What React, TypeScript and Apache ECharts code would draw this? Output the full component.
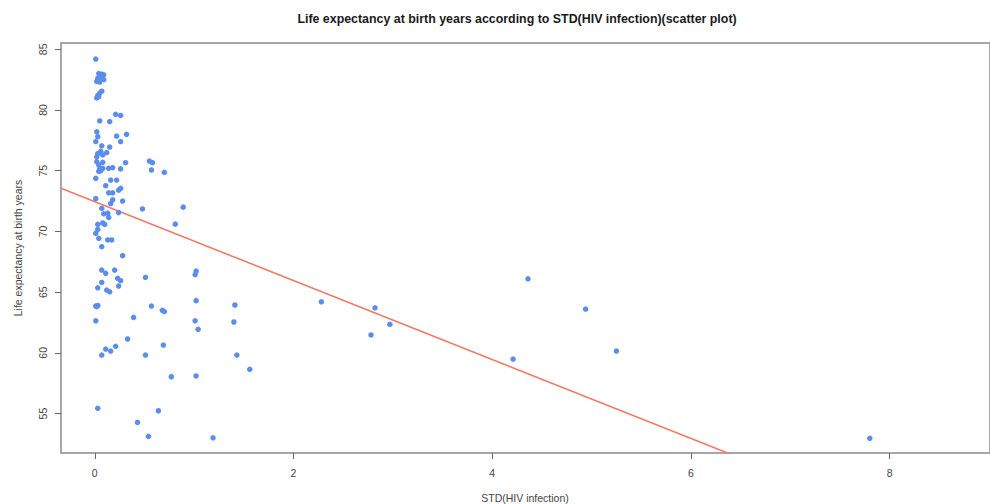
import { useEffect, useRef } from "react";
import * as echarts from "echarts";

const chartTitle = "Life expectancy at birth years according to STD(HIV infection)(scatter plot)";
const xAxisName = "STD(HIV infection)";
const yAxisName = "Life expectancy at birth years";

// STD (HIV infection) values
const stdHiv = [
  0.01, 0.04, 0.07, 0.09, 0.03, 0.06, 0.09, 0.02, 0.05, 0.08,
  0.07, 0.05, 0.03, 0.02, 0.04,
  0.21, 0.26, 0.05, 0.15,
  0.02, 0.03, 0.01, 0.22, 0.32, 0.26,
  0.07, 0.15, 0.12, 0.03, 0.02, 0.06, 0.08,
  0.02, 0.04, 0.08, 0.05,
  0.31, 0.55, 0.58, 0.57, 0.70,
  0.08, 0.14, 0.18, 0.26, 0.04, 0.06,
  0.01, 0.11, 0.16, 0.22, 0.14, 0.18, 0.24, 0.26,
  0.01, 0.18, 0.28, 0.16, 0.07, 0.09, 0.13, 0.14, 0.24,
  0.48, 0.89,
  0.03, 0.08, 0.10, 0.01, 0.03, 0.81,
  0.04, 0.07, 0.13, 0.17, 0.28,
  0.07, 0.11, 0.20, 0.07, 0.03, 0.12, 0.15, 0.23, 0.26, 0.24,
  0.51, 1.02, 1.01,
  0.01, 0.03, 0.02, 0.57, 0.68, 0.70, 1.02,
  0.01, 0.39, 1.01, 1.04, 0.33,
  0.07, 0.11, 0.16, 0.21, 0.51, 0.69,
  0.77, 1.02,
  0.03, 0.64, 0.43, 0.54, 1.19, 7.80,
  1.41, 1.40, 1.43, 1.56,
  2.28, 2.82, 2.97, 2.78,
  4.36, 4.94, 5.25, 4.21,
];

// Life expectancy at birth (years)
const lifeExp = [
  84.2, 83.0, 82.95, 82.9, 82.6, 82.7, 82.5, 82.35, 82.3, 82.55,
  81.55, 81.4, 81.2, 81.0, 81.1,
  79.65, 79.55, 79.1, 79.05,
  78.2, 77.8, 77.4, 77.85, 78.0, 77.4,
  77.05, 76.95, 76.5, 76.4, 76.15, 76.6, 76.3,
  75.74, 75.47, 75.69, 75.15,
  75.66, 75.8, 75.66, 75.06, 74.87,
  75.2, 75.2, 75.25, 75.15, 74.95, 75.0,
  74.37, 73.77, 74.23, 74.23, 73.18, 73.18, 73.4, 73.55,
  72.7, 72.6, 72.5, 72.3, 71.9, 71.45, 71.5, 71.15, 71.55,
  71.85, 72.0,
  70.58, 70.7, 70.58, 69.84, 70.17, 70.6,
  69.43, 68.74, 69.3, 69.3, 68.0,
  66.82, 66.55, 66.82, 65.8, 65.36, 65.17, 65.03, 66.14, 65.94, 65.5,
  66.22, 66.74, 66.45,
  63.85, 63.9, 63.8, 63.85, 63.5, 63.4, 64.3,
  62.64, 62.92, 62.64, 61.94, 61.14,
  59.82, 60.31, 60.15, 60.54, 59.82, 60.64,
  58.03, 58.1,
  55.43, 55.23, 54.27, 53.12, 53.0, 52.96,
  63.94, 62.54, 59.82, 58.64,
  64.2, 63.71, 62.35, 61.47,
  66.1, 63.61, 60.15, 59.49,
];

const xTicks = [0, 2, 4, 6, 8];
const yTicks = [55, 60, 65, 70, 75, 80, 85];
const xRange = [-0.34, 9.01];
const yRange = [51.75, 85.52];

// fitted regression line: lifeExp = intercept + slope * stdHiv
const regIntercept = 72.45;
const regSlope = -3.25;

export default function App() {
  const ref = useRef<HTMLDivElement>(null);

  useEffect(() => {
    if (!ref.current) return;
    const chart = echarts.init(ref.current, null, { renderer: "svg" });
    const points = stdHiv.map((x, i) => [x, lifeExp[i]]);
    const regLine = [xRange[0], xRange[1]].map((x) => [x, regIntercept + regSlope * x]);
    const axisGray = "#8a8a8a";
    const labelColor = "#444444";
    const fontFamily = "'Liberation Sans', Arial, sans-serif";

    chart.setOption({
      animation: false,
      backgroundColor: "#ffffff",
      grid: {
        left: 61,
        top: 43,
        bottom: 51,
        right: -6,
        show: true,
        borderColor: axisGray,
        borderWidth: 1.5,
        backgroundColor: "transparent",
      },
      xAxis: {
        type: "value",
        min: xRange[0],
        max: xRange[1],
        splitLine: { show: false },
        axisLine: { show: false, onZero: false },
        axisTick: {
          show: true,
          inside: false,
          length: 6,
          customValues: xTicks,
          lineStyle: { color: "#666666", width: 1 },
        },
        axisLabel: {
          customValues: xTicks,
          color: labelColor,
          fontSize: 10.5,
          fontFamily,
          margin: 14,
        },
      },
      yAxis: {
        type: "value",
        min: yRange[0],
        max: yRange[1],
        splitLine: { show: false },
        axisLine: { show: false, onZero: false },
        axisTick: {
          show: true,
          inside: false,
          length: 6,
          customValues: yTicks,
          lineStyle: { color: "#666666", width: 1 },
        },
        axisLabel: {
          customValues: yTicks,
          color: labelColor,
          fontSize: 10.5,
          fontFamily,
          rotate: 90,
          margin: 13,
        },
      },
      graphic: [
        {
          type: "text",
          x: 517,
          y: 19,
          style: {
            text: chartTitle,
            fill: "#1a1a1a",
            font: `bold 12.4px ${fontFamily}`,
            textAlign: "center",
            textVerticalAlign: "middle",
          },
        },
        {
          type: "text",
          x: 525,
          y: 498,
          style: {
            text: xAxisName,
            fill: labelColor,
            font: `10.5px ${fontFamily}`,
            textAlign: "center",
            textVerticalAlign: "middle",
          },
        },
        {
          type: "text",
          x: 18,
          y: 248,
          rotation: Math.PI / 2,
          style: {
            text: yAxisName,
            fill: labelColor,
            font: `10.5px ${fontFamily}`,
            textAlign: "center",
            textVerticalAlign: "middle",
          },
        },
      ],
      series: [
        {
          type: "scatter",
          data: points,
          symbol: "circle",
          symbolSize: 5.5,
          itemStyle: { color: "#5b8dec", opacity: 1 },
          z: 3,
        },
        {
          type: "line",
          data: regLine,
          showSymbol: false,
          symbol: "none",
          clip: true,
          lineStyle: { color: "#f27a68", width: 1.6 },
          z: 2,
        },
      ],
    });

    return () => chart.dispose();
  }, []);

  return (
    <div
      ref={ref}
      style={{ position: "fixed", left: 0, top: 0, width: 990, height: 504 }}
    />
  );
}
